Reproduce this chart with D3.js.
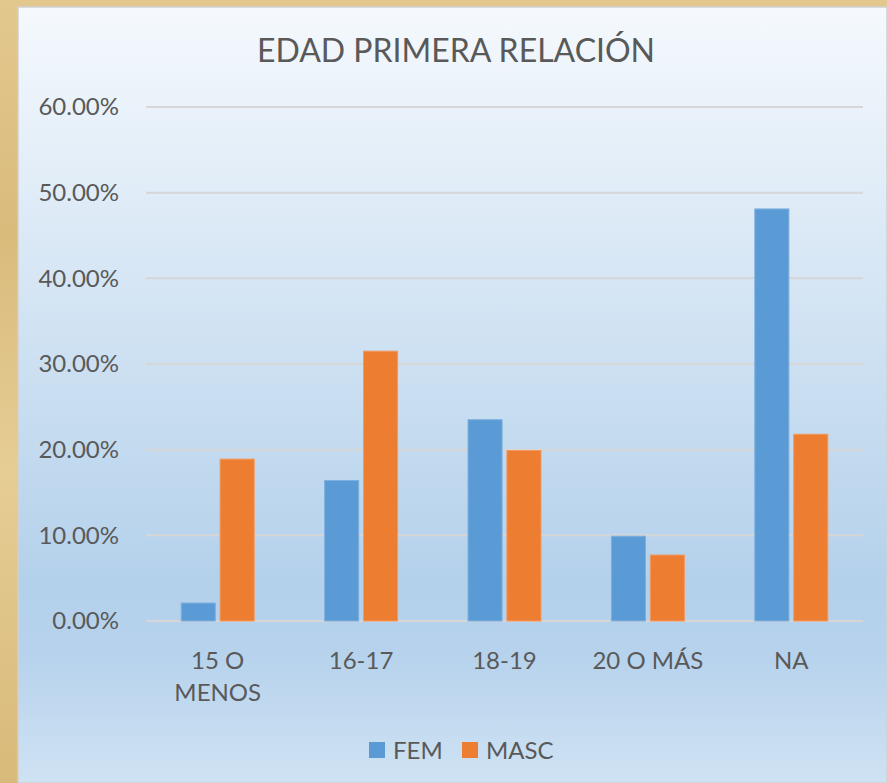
<!DOCTYPE html>
<html>
<head>
<meta charset="utf-8">
<script src="https://cdn.jsdelivr.net/npm/d3@7"></script>
<style>
  body { margin: 0; background: #dcbf82; }
  svg { display: block; }
  text { font-family: Lato, "Open Sans", sans-serif; fill: #595959; }
</style>
</head>
<body>
<div id="chart"></div>
<script>
// data
const categories = ['15 O MENOS', '16-17', '18-19', '20 O MÁS', 'NA'];
const categoryLines = [['15 O', 'MENOS'], ['16-17'], ['18-19'], ['20 O MÁS'], ['NA']];
const seriesNames = ['FEM', 'MASC'];
const femValues = [0.021, 0.164, 0.235, 0.099, 0.481];
const mascValues = [0.189, 0.315, 0.199, 0.077, 0.218];
const yTicks = [0, 0.1, 0.2, 0.3, 0.4, 0.5, 0.6];
const colors = ['#5b9bd5', '#ed7d31'];

const width = 887, height = 783;
const margin = {left: 146, right: 24, top: 107, bottom: 162};

const svg = d3.select('#chart')
  .append('svg')
  .attr('width', width)
  .attr('height', height);

const defs = svg.append('defs');

// papyrus-ish backdrop
const paper = defs.append('linearGradient')
  .attr('id', 'paper')
  .attr('x1', 0).attr('x2', 0).attr('y1', 0).attr('y2', 1);
[['0', '#e3c88e'], ['0.3', '#d9bb7c'], ['0.6', '#e6cd95'], ['1', '#d8ba7a']]
  .forEach(([o, c]) => paper.append('stop').attr('offset', o).attr('stop-color', c));
svg.append('rect')
  .attr('width', width).attr('height', height)
  .attr('fill', 'url(#paper)');

// chart area gradient
const bg = defs.append('linearGradient')
  .attr('id', 'bg')
  .attr('x1', 0).attr('x2', 0).attr('y1', 0).attr('y2', 1);
[['0', '#f5f9fd'], ['0.74', '#b4d1eb'], ['0.83', '#b6d2ec'], ['1', '#cfe2f3']]
  .forEach(([o, c]) => bg.append('stop').attr('offset', o).attr('stop-color', c));
svg.append('rect')
  .attr('x', 18).attr('y', 7)
  .attr('width', width - 18).attr('height', height - 7)
  .attr('fill', 'url(#bg)')
  .attr('stroke', '#d0d0d0')
  .attr('stroke-width', 1.5);

// scales
const x = d3.scaleBand()
  .domain(categories)
  .range([margin.left, width - margin.right]);

const y = d3.scaleLinear()
  .domain([0, 0.6])
  .range([height - margin.bottom, margin.top]);

const barW = 32, barGap = 9;
const xSub = d3.scaleBand()
  .domain(seriesNames)
  .range([x.bandwidth() / 2 - barW - barGap / 2, x.bandwidth() / 2 + barW + barGap / 2])
  .paddingInner(barGap / (2 * barW + barGap));

// gridlines
svg.append('g')
  .selectAll('line')
  .data(yTicks)
  .enter()
  .append('line')
  .attr('x1', margin.left)
  .attr('x2', width - margin.right)
  .attr('y1', d => y(d))
  .attr('y2', d => y(d))
  .attr('stroke', '#d6d6d6')
  .attr('stroke-width', 2);

// y axis labels
svg.append('g')
  .selectAll('text')
  .data(yTicks)
  .enter()
  .append('text')
  .attr('x', 119)
  .attr('y', d => y(d))
  .attr('dy', '0.35em')
  .attr('text-anchor', 'end')
  .attr('font-size', 24)
  .text(d3.format('.2%'));

// bars
const rows = categories.map((c, i) => ({cat: c, vals: [femValues[i], mascValues[i]]}));
const groups = svg.append('g')
  .selectAll('g')
  .data(rows)
  .enter()
  .append('g')
  .attr('transform', d => `translate(${x(d.cat)},0)`);

groups.selectAll('rect')
  .data(d => d.vals.map((v, k) => ({name: seriesNames[k], v, k})))
  .enter()
  .append('rect')
  .attr('x', d => xSub(d.name))
  .attr('width', xSub.bandwidth())
  .attr('y', d => y(d.v))
  .attr('height', d => y(0) - y(d.v))
  .attr('fill', d => colors[d.k])
  .attr('stroke', d => d.k === 0 ? '#7eb0df' : '#f29a60')
  .attr('stroke-width', 1);

// x labels
svg.append('g')
  .selectAll('text')
  .data(categories)
  .enter()
  .append('text')
  .attr('x', d => x(d) + x.bandwidth() / 2)
  .attr('y', 669)
  .attr('text-anchor', 'middle')
  .attr('font-size', 24)
  .each(function(d, i) {
    d3.select(this).selectAll('tspan')
      .data(categoryLines[i])
      .enter()
      .append('tspan')
      .attr('x', x(d) + x.bandwidth() / 2)
      .attr('dy', (t, j) => j === 0 ? 0 : 32)
      .text(t => t);
  });

// title
svg.append('text')
  .attr('x', 456)
  .attr('y', 62)
  .attr('text-anchor', 'middle')
  .attr('font-size', 32)
  .text('EDAD PRIMERA RELACIÓN');

// legend
const legendX = [369, 462];
const legend = svg.append('g')
  .selectAll('g')
  .data(seriesNames)
  .enter()
  .append('g')
  .attr('transform', (d, i) => `translate(${legendX[i]},742)`);
legend.append('rect')
  .attr('width', 16).attr('height', 16)
  .attr('fill', (d, i) => colors[i]);
legend.append('text')
  .attr('x', 24)
  .attr('y', 8)
  .attr('dy', '0.36em')
  .attr('font-size', 24)
  .text(d => d);
</script>
</body>
</html>
